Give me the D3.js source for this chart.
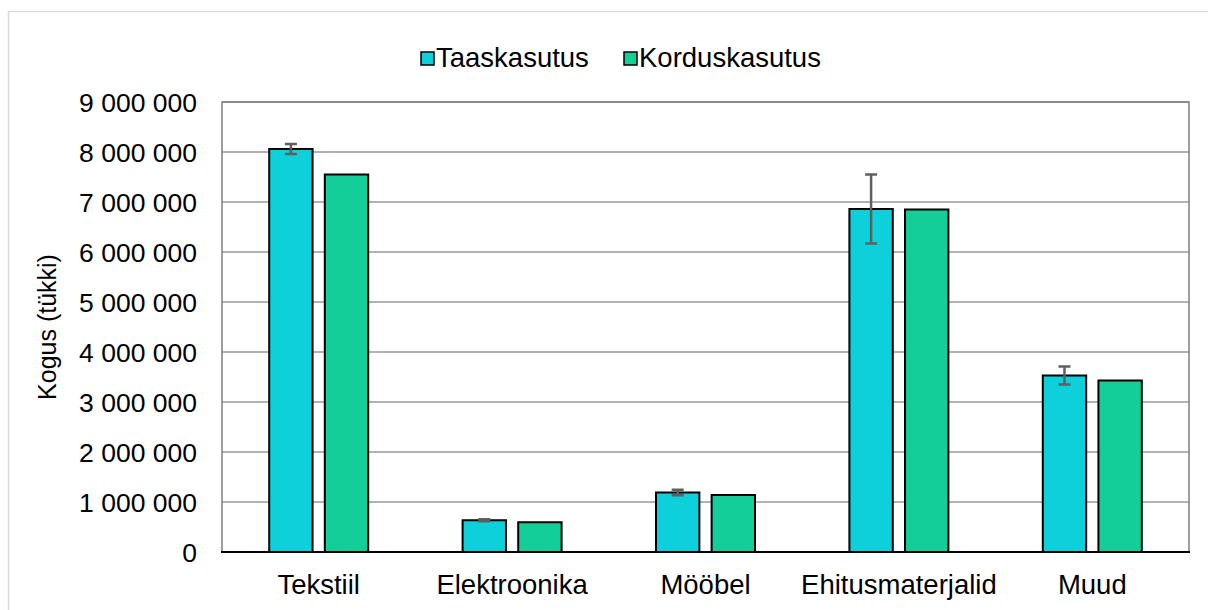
<!DOCTYPE html>
<html>
<head>
<meta charset="utf-8">
<script src="https://cdn.jsdelivr.net/npm/d3@7"></script>
<style>
  html, body { margin: 0; padding: 0; background: #fff; }
  svg { display: block; font-family: "Liberation Sans", Arial, sans-serif; }
</style>
</head>
<body>
<svg width="1208" height="610"></svg>
<script>
// andmed (loetud pildilt)
const kategooriad = ["Tekstiil", "Elektroonika", "Mööbel", "Ehitusmaterjalid", "Muud"];
const seeriad = ["Taaskasutus", "Korduskasutus"];
const taaskasutus = [8060000, 635000, 1190000, 6860000, 3530000];
const korduskasutus = [7550000, 595000, 1140000, 6850000, 3430000];
const veapiir = [100000, 20000, 55000, 690000, 180000]; // ainult Taaskasutus
const yTicks = [0, 1000000, 2000000, 3000000, 4000000, 5000000, 6000000, 7000000, 8000000, 9000000];
const yPealkiri = "Kogus (tükki)";

const varvid = { "Taaskasutus": "#0dd0da", "Korduskasutus": "#14ce98" };

const svg = d3.select("svg");

// välimine raam
svg.append("path")
  .attr("d", "M8.5,620 V11.5 H1210")
  .attr("fill", "none")
  .attr("stroke", "#d9d9d9")
  .attr("stroke-width", 1.5);

const margin = { top: 102, left: 222, right: 1189, bottom: 552 };

const x0 = d3.scaleBand().domain(kategooriad).range([margin.left, margin.right]).padding(0);
const x1 = d3.scaleBand().domain(seeriad).range([-49.5, 49.5]).paddingInner(0.22);
const y = d3.scaleLinear().domain([0, 9000000]).range([margin.bottom, margin.top]);

const fmt = v => d3.format(",")(v).replace(/,/g, " ");

// ruudustik
svg.append("g")
  .selectAll("line")
  .data(yTicks.slice(1))
  .enter().append("line")
  .attr("x1", margin.left).attr("x2", margin.right)
  .attr("y1", d => y(d)).attr("y2", d => y(d))
  .attr("stroke", "#999")
  .attr("stroke-width", 1.5);

// raam vasak/ülemine/parem
svg.append("path")
  .attr("d", `M${margin.left},${margin.bottom} V${margin.top} H${margin.right} V${margin.bottom}`)
  .attr("fill", "none")
  .attr("stroke", "#7f7f7f")
  .attr("stroke-width", 1.5);

// y telje sildid
svg.append("g")
  .selectAll("text")
  .data(yTicks)
  .enter().append("text")
  .attr("x", 197)
  .attr("y", d => y(d))
  .attr("dy", "0.36em")
  .attr("text-anchor", "end")
  .attr("font-size", 26.5)
  .attr("fill", "#000")
  .text(fmt);

// tulbad
const andmed = kategooriad.map((k, i) => ({
  kat: k,
  vals: [
    { s: "Taaskasutus", v: taaskasutus[i], err: veapiir[i] },
    { s: "Korduskasutus", v: korduskasutus[i], err: 0 }
  ]
}));

const grupp = svg.append("g")
  .selectAll("g")
  .data(andmed)
  .enter().append("g")
  .attr("transform", d => `translate(${x0(d.kat) + x0.bandwidth() / 2},0)`);

grupp.selectAll("rect")
  .data(d => d.vals)
  .enter().append("rect")
  .attr("x", d => x1(d.s))
  .attr("y", d => y(d.v))
  .attr("width", x1.bandwidth())
  .attr("height", d => y(0) - y(d.v))
  .attr("fill", d => varvid[d.s])
  .attr("stroke", "#000")
  .attr("stroke-width", 2);

// veapiirid
const vead = grupp.selectAll("g.err")
  .data(d => d.vals.filter(v => v.err > 0))
  .enter().append("g")
  .attr("class", "err")
  .attr("stroke", "#5f5f5f")
  .attr("stroke-width", 2.5);

vead.append("line")
  .attr("x1", d => x1(d.s) + x1.bandwidth() / 2)
  .attr("x2", d => x1(d.s) + x1.bandwidth() / 2)
  .attr("y1", d => y(d.v + d.err))
  .attr("y2", d => y(d.v - d.err));
[1, -1].forEach(sgn => {
  vead.append("line")
    .attr("x1", d => x1(d.s) + x1.bandwidth() / 2 - 6)
    .attr("x2", d => x1(d.s) + x1.bandwidth() / 2 + 6)
    .attr("y1", d => y(d.v + sgn * d.err))
    .attr("y2", d => y(d.v + sgn * d.err));
});

// x telg
svg.append("line")
  .attr("x1", margin.left - 1).attr("x2", margin.right + 1)
  .attr("y1", margin.bottom).attr("y2", margin.bottom)
  .attr("stroke", "#000")
  .attr("stroke-width", 2);

svg.append("g")
  .selectAll("text")
  .data(kategooriad)
  .enter().append("text")
  .attr("x", d => x0(d) + x0.bandwidth() / 2)
  .attr("y", 594)
  .attr("text-anchor", "middle")
  .attr("font-size", 27.5)
  .attr("fill", "#000")
  .text(d => d);

// y telje pealkiri
svg.append("text")
  .attr("transform", `translate(56,${(margin.top + margin.bottom) / 2}) rotate(-90)`)
  .attr("text-anchor", "middle")
  .attr("font-size", 25)
  .attr("fill", "#000")
  .text(yPealkiri);

// legend
const legendX = [421, 624];
const legend = svg.append("g")
  .selectAll("g")
  .data(seeriad)
  .enter().append("g")
  .attr("transform", (d, i) => `translate(${legendX[i]},52)`);

legend.append("rect")
  .attr("width", 13).attr("height", 13)
  .attr("fill", d => varvid[d])
  .attr("stroke", "#000")
  .attr("stroke-width", 1.5);

legend.append("text")
  .attr("x", 15)
  .attr("y", 15)
  .attr("font-size", 27.5)
  .attr("fill", "#000")
  .text(d => d);
</script>
</body>
</html>
